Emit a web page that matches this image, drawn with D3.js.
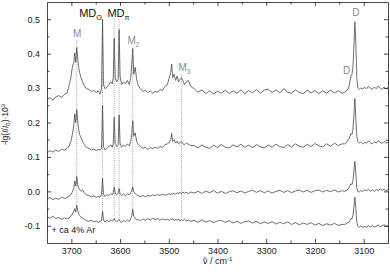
<!DOCTYPE html>
<html>
<head>
<meta charset="utf-8">
<script src="https://cdn.jsdelivr.net/npm/d3@7"></script>
<style>
  body { margin: 0; background: #fff; }
  text { font-family: "Liberation Sans", Arial, sans-serif; }
</style>
</head>
<body>
<div id="container"></div>
<script>
/* CONSTANTS AND GLOBALS */
const width = 390,
  height = 274,
  margin = { top: 2, bottom: 31, left: 47, right: 2 };

/* DATA */
const wavenumbers = [
  3750, 3744, 3738, 3732, 3726, 3720, 3714, 3709,
  3705, 3701, 3698, 3695, 3693, 3691, 3689, 3687, 3685, 3683, 3680, 3677, 3673, 3669,
  3664, 3659, 3654, 3649, 3645, 3641, 3638,
  3636, 3634, 3631, 3627, 3623, 3619, 3616,
  3614, 3612, 3610, 3607, 3604, 3602, 3600, 3597, 3593, 3589, 3585, 3581,
  3578, 3576, 3574, 3572, 3569, 3566, 3562,
  3558, 3553, 3548, 3543, 3538, 3533, 3528, 3523, 3518, 3513, 3508, 3503,
  3499, 3496, 3494, 3492, 3489, 3486, 3483, 3480, 3477, 3474, 3471, 3468, 3464, 3460, 3455,
  3448, 3440, 3432, 3424, 3416, 3408, 3400, 3392, 3384, 3376,
  3368, 3360, 3352, 3344, 3336, 3328, 3320, 3312, 3304, 3296,
  3288, 3280, 3272, 3264, 3256, 3248, 3240, 3232, 3224, 3216,
  3208, 3200, 3192, 3184, 3176, 3168, 3160, 3152, 3144,
  3139, 3135, 3131, 3128, 3126, 3124, 3122, 3120, 3118, 3116, 3114, 3112, 3109, 3106, 3102, 3098,
  3094, 3090, 3086, 3082, 3078, 3074, 3070, 3066, 3062, 3058, 3054, 3050
];

const spectrumA = [
  0.268, 0.272, 0.265, 0.275, 0.278, 0.273, 0.282, 0.285,
  0.305, 0.33, 0.36, 0.375, 0.402, 0.375, 0.418, 0.385, 0.36, 0.345, 0.33, 0.318, 0.305, 0.298,
  0.296, 0.29, 0.293, 0.287, 0.292, 0.282, 0.30,
  0.50, 0.31, 0.298, 0.303, 0.31, 0.318, 0.312,
  0.33, 0.445, 0.33, 0.318, 0.325, 0.47, 0.335, 0.31, 0.318, 0.312, 0.322, 0.31,
  0.33, 0.37, 0.415, 0.34, 0.36, 0.325, 0.305,
  0.298, 0.29, 0.294, 0.287, 0.292, 0.285, 0.29, 0.288, 0.296, 0.293, 0.305, 0.31,
  0.33, 0.345, 0.37, 0.33, 0.34, 0.322, 0.335, 0.318, 0.325, 0.33, 0.322, 0.31, 0.318, 0.322, 0.305,
  0.298, 0.288, 0.295, 0.284, 0.292, 0.283, 0.291, 0.285, 0.294, 0.284,
  0.292, 0.285, 0.295, 0.284, 0.293, 0.286, 0.296, 0.285, 0.294, 0.297,
  0.287, 0.295, 0.286, 0.298, 0.288, 0.285, 0.295, 0.287, 0.284, 0.294,
  0.286, 0.293, 0.284, 0.292, 0.285, 0.294, 0.286, 0.292, 0.285,
  0.288, 0.292, 0.30, 0.32, 0.335, 0.34, 0.36, 0.42, 0.493, 0.43, 0.33, 0.30, 0.296, 0.30, 0.297, 0.302,
  0.298, 0.305, 0.30, 0.296, 0.303, 0.298, 0.306, 0.30, 0.296, 0.303, 0.298, 0.302
];

const spectrumB = [
  0.112, 0.118, 0.114, 0.12, 0.116, 0.122, 0.12, 0.125,
  0.13, 0.145, 0.165, 0.19, 0.225, 0.2, 0.238, 0.205, 0.18, 0.165, 0.155, 0.145, 0.135, 0.128,
  0.125, 0.12, 0.123, 0.118, 0.122, 0.12, 0.125,
  0.25, 0.13, 0.12, 0.125, 0.13, 0.135, 0.128,
  0.14, 0.215, 0.14, 0.13, 0.135, 0.222, 0.14, 0.128, 0.135, 0.13, 0.138, 0.132,
  0.145, 0.17, 0.205, 0.16, 0.17, 0.145, 0.135,
  0.13, 0.125, 0.128, 0.122, 0.127, 0.124, 0.128, 0.125, 0.13, 0.128, 0.135, 0.138,
  0.142, 0.15, 0.168, 0.145, 0.15, 0.14, 0.146, 0.138, 0.142, 0.145, 0.138, 0.135, 0.14, 0.137, 0.133,
  0.133, 0.126, 0.135, 0.128, 0.125, 0.134, 0.127, 0.136, 0.128, 0.126,
  0.135, 0.129, 0.137, 0.128, 0.134, 0.127, 0.136, 0.129, 0.126, 0.135,
  0.128, 0.137, 0.13, 0.127, 0.136, 0.129, 0.138, 0.131, 0.128, 0.137,
  0.13, 0.139, 0.132, 0.129, 0.138, 0.131, 0.14, 0.133, 0.138,
  0.138, 0.142, 0.15, 0.16, 0.168, 0.165, 0.18, 0.22, 0.27, 0.21, 0.16, 0.145, 0.14, 0.143, 0.138, 0.142,
  0.14, 0.146, 0.141, 0.138, 0.144, 0.14, 0.147, 0.142, 0.139, 0.145, 0.14, 0.143
];

const spectrumC = [
  -0.022, -0.018, -0.024, -0.02, -0.023, -0.017, -0.021, -0.018,
  -0.014, -0.01, -0.002, 0.01, 0.03, 0.015, 0.043, 0.02, 0.01, 0.005, 0.0, 0.004, -0.005, -0.01,
  -0.012, -0.016, -0.013, -0.018, -0.014, -0.017, -0.01,
  0.038, -0.008, -0.015, -0.01, -0.012, -0.006, -0.01,
  -0.004, 0.012, -0.005, -0.01, -0.006, 0.008, -0.006, -0.012, -0.008, -0.013, -0.007, -0.01,
  -0.004, 0.003, 0.013, -0.002, -0.006, -0.01, -0.013,
  -0.015, -0.012, -0.016, -0.011, -0.014, -0.01, -0.013, -0.009, -0.012, -0.008, -0.011, -0.009,
  -0.007, -0.01, -0.006, -0.009, -0.005, -0.008, -0.004, -0.007, -0.003, -0.006, -0.002, -0.005, -0.003, -0.006, -0.002,
  -0.005, 0.0, -0.006, 0.001, -0.004, 0.002, -0.005, 0.0, -0.006, -0.001,
  0.002, -0.004, 0.001, -0.005, 0.0, 0.003, -0.003, 0.002, -0.004, 0.001,
  -0.005, 0.0, 0.003, -0.003, 0.002, -0.004, 0.001, 0.004, -0.002, 0.003,
  -0.003, 0.002, 0.004, -0.002, 0.003, -0.001, 0.004, -0.002, 0.002,
  0.0, 0.003, 0.008, 0.017, 0.022, 0.02, 0.03, 0.06, 0.087, 0.05, 0.01, 0.0, -0.002, 0.002, 0.0, 0.004,
  0.002, 0.006, 0.001, 0.004, 0.0, 0.005, 0.002, 0.007, 0.003, 0.006, 0.002, 0.005
];

const spectrumD = [
  -0.074, -0.078, -0.072, -0.079, -0.076, -0.081, -0.077, -0.08,
  -0.078, -0.072, -0.066, -0.058, -0.05, -0.06, -0.04, -0.055, -0.065, -0.07, -0.075, -0.078, -0.082, -0.085,
  -0.087, -0.084, -0.089, -0.086, -0.09, -0.087, -0.085,
  -0.058, -0.083, -0.089, -0.085, -0.088, -0.083, -0.087,
  -0.083, -0.079, -0.086, -0.089, -0.084, -0.081, -0.087, -0.09, -0.085, -0.088, -0.083, -0.087,
  -0.08, -0.07, -0.052, -0.072, -0.078, -0.083, -0.082,
  -0.085, -0.08, -0.084, -0.079, -0.083, -0.078, -0.082, -0.079, -0.084, -0.08, -0.083, -0.081,
  -0.084, -0.08, -0.083, -0.079, -0.085, -0.081, -0.084, -0.08, -0.086, -0.082, -0.085, -0.081, -0.086, -0.083, -0.087,
  -0.084, -0.09, -0.083, -0.089, -0.085, -0.091, -0.086, -0.084, -0.09, -0.085,
  -0.092, -0.087, -0.093, -0.088, -0.086, -0.092, -0.087, -0.094, -0.089, -0.093,
  -0.088, -0.095, -0.09, -0.094, -0.089, -0.096, -0.091, -0.097, -0.092, -0.096,
  -0.091, -0.098, -0.093, -0.099, -0.094, -0.098, -0.093, -0.099, -0.096,
  -0.096, -0.093, -0.09, -0.085, -0.078, -0.08, -0.07, -0.045, -0.017, -0.05, -0.09, -0.1, -0.104, -0.101, -0.105, -0.102,
  -0.104, -0.1, -0.103, -0.099, -0.104, -0.101, -0.098, -0.103, -0.1, -0.097, -0.101, -0.099
];

const spectra = [spectrumA, spectrumB, spectrumC, spectrumD];

// dotted marker lines: wavenumber, top value, bottom value
const markerNu = [3689, 3636, 3612, 3602, 3574, 3474];
const markerTop = [0.44, 0.493, 0.5, 0.5, 0.417, 0.339];
const markerBottom = [-0.046, -0.072, -0.081, -0.081, -0.075, -0.078];

const xTicks = [3700, 3600, 3500, 3400, 3300, 3200, 3100];
const xMinorTicks = [3650, 3550, 3450, 3350, 3250, 3150];
const yTicks = [-0.1, 0.0, 0.1, 0.2, 0.3, 0.4, 0.5];
const yMinorTicks = [-0.05, 0.05, 0.15, 0.25, 0.35, 0.45];

/* SCALES */
const x = d3.scaleLinear()
  .domain([3750, 3050])
  .range([margin.left, width - margin.right]);

const y = d3.scaleLinear()
  .domain([-0.15, 0.55])
  .range([height - margin.bottom, margin.top]);

const svg = d3.select("#container")
  .append("svg")
  .attr("width", width)
  .attr("height", height);

/* MARKER LINES */
svg.selectAll("line.marker")
  .data(markerNu)
  .join("line")
  .attr("class", "marker")
  .attr("x1", d => x(d))
  .attr("x2", d => x(d))
  .attr("y1", (d, i) => y(markerTop[i]))
  .attr("y2", (d, i) => y(markerBottom[i]))
  .attr("stroke", "#8c8c8c")
  .attr("stroke-width", 0.8)
  .attr("stroke-dasharray", "1,1.2");

/* SPECTRA */
const lineGen = d3.line()
  .x((d, i) => x(wavenumbers[i]))
  .y(d => y(d));

svg.selectAll("path.spectrum")
  .data(spectra)
  .join("path")
  .attr("class", "spectrum")
  .attr("d", d => lineGen(d))
  .attr("fill", "none")
  .attr("stroke", "#4a4a4a")
  .attr("stroke-width", 0.8)
  .attr("stroke-linejoin", "round");

/* AXES */
const fmtY = d => d3.format(".1f")(d).replace("\u2212", "-");
const fmtX = d3.format("d");

const plotBottom = height - margin.bottom;
const plotRight = width - margin.right;

svg.append("g")
  .attr("transform", `translate(0,${plotBottom})`)
  .call(d3.axisBottom(x).tickValues(xTicks).tickSize(-4).tickSizeOuter(0).tickPadding(5).tickFormat(fmtX));
svg.append("g")
  .attr("transform", `translate(0,${plotBottom})`)
  .call(d3.axisBottom(x).tickValues(xMinorTicks).tickSize(-2.5).tickFormat(""))
  .call(g => g.select(".domain").remove());

svg.append("g")
  .attr("transform", `translate(0,${margin.top})`)
  .call(d3.axisTop(x).tickValues(xTicks).tickSize(-4).tickSizeOuter(0).tickFormat(""));
svg.append("g")
  .attr("transform", `translate(0,${margin.top})`)
  .call(d3.axisTop(x).tickValues(xMinorTicks).tickSize(-2.5).tickFormat(""))
  .call(g => g.select(".domain").remove());

svg.append("g")
  .attr("transform", `translate(${margin.left},0)`)
  .call(d3.axisLeft(y).tickValues(yTicks).tickSize(-4).tickSizeOuter(0).tickPadding(7).tickFormat(fmtY));
svg.append("g")
  .attr("transform", `translate(${margin.left},0)`)
  .call(d3.axisLeft(y).tickValues(yMinorTicks).tickSize(-2.5).tickFormat(""))
  .call(g => g.select(".domain").remove());

svg.append("g")
  .attr("transform", `translate(${plotRight},0)`)
  .call(d3.axisRight(y).tickValues(yTicks).tickSize(-4).tickSizeOuter(0).tickFormat(""));
svg.append("g")
  .attr("transform", `translate(${plotRight},0)`)
  .call(d3.axisRight(y).tickValues(yMinorTicks).tickSize(-2.5).tickFormat(""))
  .call(g => g.select(".domain").remove());

svg.selectAll("g").attr("font-family", "'Liberation Sans', Arial, sans-serif");
svg.selectAll(".tick text")
  .style("font-size", "9px")
  .attr("fill", "#1a1a1a");
svg.selectAll(".domain, .tick line")
  .attr("stroke", "#1a1a1a")
  .attr("stroke-width", 0.8);

/* AXIS TITLES */
const yTitle = svg.append("text")
  .attr("transform", `translate(8,${(margin.top + plotBottom) / 2 + 2}) rotate(-90)`)
  .attr("text-anchor", "middle")
  .style("font-size", "8.5px")
  .attr("fill", "#1a1a1a");
yTitle.append("tspan").text("-lg(");
yTitle.append("tspan").style("font-style", "italic").text("I");
yTitle.append("tspan").text("/");
yTitle.append("tspan").style("font-style", "italic").text("I");
yTitle.append("tspan").attr("dy", 2).style("font-size", "6px").text("0");
yTitle.append("tspan").attr("dy", -2).text(")\u00b710");
yTitle.append("tspan").attr("dy", -3).style("font-size", "6px").text("3");

const xTitle = svg.append("text")
  .attr("x", (margin.left + plotRight) / 2)
  .attr("y", 264)
  .attr("text-anchor", "middle")
  .style("font-size", "9px")
  .attr("fill", "#1a1a1a");
xTitle.append("tspan").style("font-family", "'DejaVu Sans', sans-serif").style("font-size", "8.5px").text("\u03bd\u0303");
xTitle.append("tspan").text(" / cm");
xTitle.append("tspan").attr("dy", -3).style("font-size", "6px").text("-1");

/* PEAK LABELS */
function label(nu, val, anchor, main, sub, color, size) {
  const t = svg.append("text")
    .attr("x", x(nu))
    .attr("y", y(val))
    .attr("text-anchor", anchor)
    .style("font-size", size + "px")
    .attr("fill", color);
  t.append("tspan").text(main);
  if (sub) {
    t.append("tspan").attr("dy", 3).style("font-size", (size * 0.65) + "px").text(sub);
  }
}

label(3688, 0.449, "middle", "M", null, "#8a8a8a", 10);
label(3684, 0.507, "start", "MD", "O", "#111", 11);
label(3626, 0.507, "start", "MD", "\u03c0", "#111", 11);
label(3585, 0.429, "start", "M", "2", "#8a8a8a", 10);
label(3480, 0.351, "start", "M", "3", "#8a8a8a", 10);
label(3116, 0.51, "middle", "D", null, "#8a8a8a", 10);
label(3135, 0.342, "middle", "D", null, "#8a8a8a", 10);
label(3741, -0.122, "start", "+ ca 4% Ar", null, "#111", 9);
</script>
</body>
</html>
